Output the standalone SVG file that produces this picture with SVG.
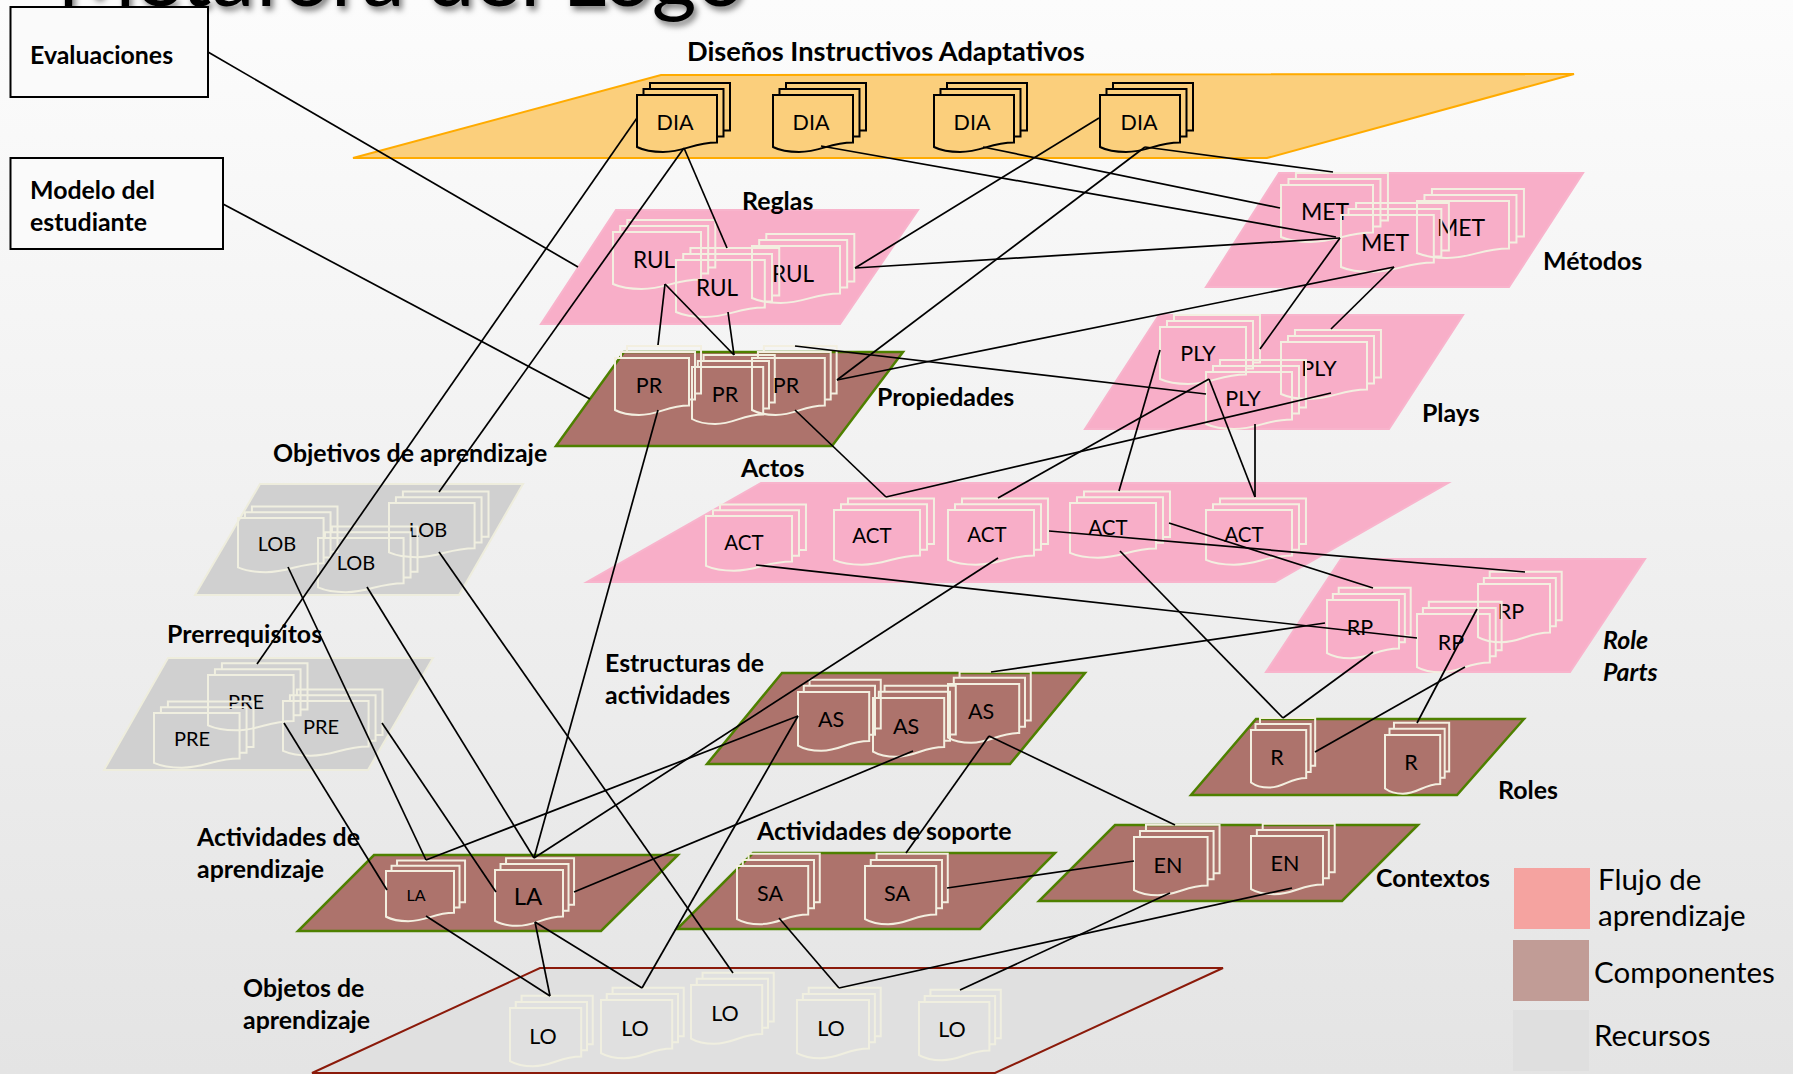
<svg xmlns="http://www.w3.org/2000/svg" width="1793" height="1074" viewBox="0 0 1793 1074">
<style>
text{font-family:"Lato","Liberation Sans",sans-serif;fill:#000;stroke:none}
.b{font-weight:700;font-size:24.9px;transform:translateY(1px)}
.i{font-weight:700;font-style:italic;font-size:24.9px;transform:translateY(1px)}
.l{font-size:29.5px}
.t{font-size:21.5px;text-anchor:middle;transform:translateY(-1px)}
.dia{stroke:#000}
.pk,.br{stroke:#F3EFE0}
.gy,.lo{stroke:#F0EFE0}
.doc{fill:none;stroke-width:2;vector-effect:non-scaling-stroke}
.box{fill:#FAFAFA;stroke:#000;stroke-width:2}
.p{stroke-width:2}
.po{fill:#FBCF7C;stroke:#FFAB00}
.pp{fill:#F8AEC8;stroke:#F8B4CC}
.pb{fill:#AD736C;stroke:#4E8000;stroke-width:2.5}
.pg{fill:#D0D0D0;stroke:#EEEDDD}
.pl{fill:#E0E0E0;stroke:#8B1A0A}
#conn line{stroke:#000;stroke-width:1.7}
</style>
<defs>
<linearGradient id="bg" x1="0" y1="0" x2="0" y2="1"><stop offset="0" stop-color="#FCFCFC"/><stop offset="1" stop-color="#E4E4E4"/></linearGradient>
<filter id="sh" x="-5%" y="-30%" width="110%" height="170%"><feDropShadow dx="3" dy="4" stdDeviation="3" flood-color="#000" flood-opacity="0.55"/></filter>
<clipPath id="cutpre"><rect x="220" y="695" width="60" height="20"/></clipPath>
<g id="st"><path class="doc" d="M13-6V-12H93V35.5H86.5"/><path class="doc" d="M6.5 0V-6H86.5V41.5H80"/><path class="doc" d="M0 0H80V47.5C56 47.5 48 57 26 57C14 57 6 55 0 52Z"/></g>
</defs>
<rect width="1793" height="1074" fill="url(#bg)"/>
<text x="57" y="6" font-size="86" filter="url(#sh)">Metáfora del Logo</text>
<g id="evaluaciones"><rect class="box" x="10.5" y="7" width="197.5" height="90"/><text class="b" x="30" y="63">Evaluaciones</text></g>
<g id="modelo"><rect class="box" x="10.5" y="158" width="212.5" height="91"/><text class="b" x="30" y="198">Modelo del</text><text class="b" x="30" y="230">estudiante</text></g>

<g id="plane-dia"><polygon class="p po" points="661,75 1574,74 1267,158 353,158"/><text class="b" x="687" y="60" style="font-size:27.2px">Diseños Instructivos Adaptativos</text></g>
<g id="dia1" class="dia"><use href="#st" transform="translate(637 95)"/><text class="t" x="675" y="131">DIA</text></g>
<g id="dia2" class="dia"><use href="#st" transform="translate(773 95)"/><text class="t" x="811" y="131">DIA</text></g>
<g id="dia3" class="dia"><use href="#st" transform="translate(934 95)"/><text class="t" x="972" y="131">DIA</text></g>
<g id="dia4" class="dia"><use href="#st" transform="translate(1100 95)"/><text class="t" x="1139" y="131">DIA</text></g>

<g id="plane-reglas"><polygon class="p pp" points="616,210 918,210 840,324 541,324"/><text class="b" x="742" y="209">Reglas</text></g>
<g id="rul1" class="pk"><use href="#st" transform="translate(613 232) scale(1.1 1)"/><text class="t" style="font-size:22.5px" x="654" y="269">RUL</text></g>
<g id="rul3" class="pk"><use href="#st" transform="translate(752 246) scale(1.1 1)"/><text class="t" style="font-size:22.5px" x="793" y="283">RUL</text></g>
<g id="rul2" class="pk"><use href="#st" transform="translate(676 260) scale(1.11 1)"/><text class="t" style="font-size:22.5px" x="717" y="297">RUL</text></g>

<g id="plane-prop"><polygon class="p pb" points="624,352 903,352 832,446 556,446"/><text class="b" x="877" y="405">Propiedades</text></g>
<g id="pr1" class="br"><use href="#st" transform="translate(615 358) scale(.925 1)"/><text class="t" x="649" y="394">PR</text></g>
<g id="pr2" class="br"><use href="#st" transform="translate(692 367) scale(.89 1)"/><text class="t" x="725" y="403">PR</text></g>
<g id="pr3" class="br"><use href="#st" transform="translate(752 358) scale(.91 1)"/><text class="t" x="786" y="394">PR</text></g>

<g id="plane-metodos"><polygon class="p pp" points="1279,173 1583,173 1509,287 1206,287"/><text class="b" x="1543" y="269">Métodos</text></g>
<g id="met1" class="pk"><use href="#st" transform="translate(1281 185) scale(1.15 1)"/><text class="t" style="font-size:23px" x="1325" y="221">MET</text></g>
<g id="met3" class="pk"><use href="#st" transform="translate(1417 201) scale(1.15 1)"/><text class="t" style="font-size:23px" x="1461" y="237">MET</text></g>
<g id="met2" class="pk"><use href="#st" transform="translate(1341 215) scale(1.16 1)"/><text class="t" style="font-size:23px" x="1385" y="252">MET</text></g>

<g id="plane-plays"><polygon class="p pp" points="1159,315 1463,315 1389,429 1085,429"/><text class="b" x="1422" y="421">Plays</text></g>
<g id="ply1" class="pk"><use href="#st" transform="translate(1160 327) scale(1.075 1)"/><text class="t" x="1198" y="362">PLY</text></g>
<g id="ply2" class="pk"><use href="#st" transform="translate(1281 342) scale(1.075 1)"/><text class="t" x="1319" y="377">PLY</text></g>
<g id="ply3" class="pk"><use href="#st" transform="translate(1206 372) scale(1.075 1)"/><text class="t" x="1243" y="407">PLY</text></g>

<g id="plane-actos"><polygon class="p pp" points="761,483 1448,483 1275,582 587,582"/><text class="b" x="741" y="476">Actos</text></g>
<g id="act0" class="pk"><use href="#st" transform="translate(706 516) scale(1.075 .96)"/><text class="t" style="font-size:20.5px" x="744" y="551">ACT</text></g>
<g id="act1" class="pk"><use href="#st" transform="translate(834 510) scale(1.075 .96)"/><text class="t" style="font-size:20.5px" x="872" y="544">ACT</text></g>
<g id="act2" class="pk"><use href="#st" transform="translate(948 510) scale(1.075 .96)"/><text class="t" style="font-size:20.5px" x="987" y="543">ACT</text></g>
<g id="act3" class="pk"><use href="#st" transform="translate(1070 503) scale(1.075 .96)"/><text class="t" style="font-size:20.5px" x="1108" y="536">ACT</text></g>
<g id="act4" class="pk"><use href="#st" transform="translate(1206 510) scale(1.075 .96)"/><text class="t" style="font-size:20.5px" x="1244" y="543">ACT</text></g>

<g id="plane-rp"><polygon class="p pp" points="1341,559 1645,559 1570,672 1266,672"/><text class="i" x="1603" y="648">Role</text><text class="i" x="1603" y="680">Parts</text></g>
<g id="rp1" class="pk"><use href="#st" transform="translate(1327 600) scale(.9 1.02)"/><text class="t" x="1360" y="636">RP</text></g>
<g id="rp3" class="pk"><use href="#st" transform="translate(1478 584) scale(.9 1.02)"/><text class="t" x="1511" y="620">RP</text></g>
<g id="rp2" class="pk"><use href="#st" transform="translate(1417 614) scale(.91 1.02)"/><text class="t" x="1451" y="651">RP</text></g>

<g id="plane-lob"><polygon class="p pg" points="260,484 523,484 459,595 195,595"/><text class="b" x="273" y="461">Objetivos de aprendizaje</text></g>
<g id="lob1" class="gy"><use href="#st" transform="translate(238 518) scale(1.07 .95)"/><text class="t" style="font-size:20px" x="277" y="552">LOB</text></g>
<g id="lob3" class="gy"><use href="#st" transform="translate(389 503) scale(1.07 .95)"/><text class="t" style="font-size:20px" x="428" y="538">LOB</text></g>
<g id="lob2" class="gy"><use href="#st" transform="translate(318 538) scale(1.07 .95)"/><text class="t" style="font-size:20px" x="356" y="571">LOB</text></g>

<g id="plane-pre"><polygon class="p pg" points="168,658 433,658 368,770 104,770"/><text class="b" x="167" y="642">Prerrequisitos</text></g>
<g id="pre1" class="gy"><use href="#st" transform="translate(208 675) scale(1.07 .97)"/><text class="t" style="font-size:20px" x="246" y="710" clip-path="url(#cutpre)">PRE</text></g>
<g id="pre2" class="gy"><use href="#st" transform="translate(154 713) scale(1.07 .96)"/><text class="t" style="font-size:20px" x="192" y="747">PRE</text></g>
<g id="pre3" class="gy"><use href="#st" transform="translate(283 701) scale(1.07 .96)"/><text class="t" style="font-size:20px" x="321" y="735">PRE</text></g>

<g id="plane-as"><polygon class="p pb" points="782,673 1085,673 1010,764 707,764"/><text class="b" x="605" y="671">Estructuras de</text><text class="b" x="605" y="703">actividades</text></g>
<g id="as1" class="br"><use href="#st" transform="translate(798 692) scale(.89 1.03)"/><text class="t" x="831" y="728">AS</text></g>
<g id="as2" class="br"><use href="#st" transform="translate(873 698) scale(.89 1.03)"/><text class="t" x="906" y="735">AS</text></g>
<g id="as3" class="br"><use href="#st" transform="translate(948 684) scale(.89 1.03)"/><text class="t" x="981" y="720">AS</text></g>

<g id="plane-roles"><polygon class="p pb" points="1256,719 1524,719 1457,795 1191,795"/><text class="b" x="1498" y="798">Roles</text></g>
<g id="r1" class="br"><use href="#st" transform="translate(1251 730) scale(.69 1.01)"/><text class="t" x="1277" y="766">R</text></g>
<g id="r2" class="br"><use href="#st" transform="translate(1385 735) scale(.69 1.03)"/><text class="t" x="1411" y="771">R</text></g>

<g id="plane-ctx"><polygon class="p pb" points="1115,825 1418,825 1342,901 1039,901"/><text class="b" x="1376" y="886">Contextos</text></g>
<g id="en1" class="br"><use href="#st" transform="translate(1134 837) scale(.92 1.02)"/><text class="t" x="1168" y="874">EN</text></g>
<g id="en2" class="br"><use href="#st" transform="translate(1251 836) scale(.9 1.02)"/><text class="t" x="1285" y="872">EN</text></g>

<g id="plane-sa"><polygon class="p pb" points="753,853 1055,853 980,929 677,929"/><text class="b" x="757" y="839">Actividades de soporte</text></g>
<g id="sa1" class="br"><use href="#st" transform="translate(737 866) scale(.89 1.02)"/><text class="t" x="770" y="902">SA</text></g>
<g id="sa2" class="br"><use href="#st" transform="translate(865 866) scale(.89 1.02)"/><text class="t" x="897" y="902">SA</text></g>

<g id="plane-la"><polygon class="p pb" points="374,855 678,855 601,931 298,931"/><text class="b" x="197" y="845">Actividades de</text><text class="b" x="197" y="877">aprendizaje</text></g>
<g id="la1" class="br"><use href="#st" transform="translate(386 871) scale(.85 .88)"/><text class="t" x="416" y="902" style="font-size:16px">LA</text></g>
<g id="la2" class="br"><use href="#st" transform="translate(495 870) scale(.85 .98)"/><text class="t" x="528" y="906" style="font-size:24px">LA</text></g>

<g id="plane-lo"><polygon class="p pl" points="540,968 1223,968 995,1073 312,1073"/><text class="b" x="243" y="996">Objetos de</text><text class="b" x="243" y="1028">aprendizaje</text></g>
<g id="lo1" class="lo"><use href="#st" transform="translate(510 1008) scale(.89 1.02)"/><text class="t" x="543" y="1045">LO</text></g>
<g id="lo2" class="lo"><use href="#st" transform="translate(601 1000) scale(.89 1.02)"/><text class="t" x="635" y="1037">LO</text></g>
<g id="lo3" class="lo"><use href="#st" transform="translate(691 985) scale(.89 1.03)"/><text class="t" x="725" y="1022">LO</text></g>
<g id="lo4" class="lo"><use href="#st" transform="translate(797 1000) scale(.9 1.02)"/><text class="t" x="831" y="1037">LO</text></g>
<g id="lo5" class="lo"><use href="#st" transform="translate(919 1002) scale(.88 1.02)"/><text class="t" x="952" y="1038">LO</text></g>

<g id="legend">
<rect x="1514" y="868" width="76" height="61" fill="#F5A3A0"/><text class="l" x="1598" y="890">Flujo de</text><text class="l" x="1598" y="926">aprendizaje</text>
<rect x="1513" y="940" width="76" height="61" fill="#C19C96"/><text class="l" x="1594" y="983">Componentes</text>
<rect x="1513" y="1010" width="76" height="61" fill="#DFDFDF"/><text class="l" x="1594" y="1046">Recursos</text>
</g>

<g id="conn">
<line x1="208" y1="52" x2="578" y2="267"/>
<line x1="223" y1="204" x2="590" y2="399"/>
<line x1="637" y1="118" x2="257" y2="664"/>
<line x1="684" y1="148" x2="439" y2="492"/>
<line x1="684" y1="148" x2="727" y2="248"/>
<line x1="821" y1="146" x2="1336" y2="237"/>
<line x1="983" y1="147" x2="1280" y2="208"/>
<line x1="1099" y1="118" x2="855" y2="268"/>
<line x1="1145" y1="147" x2="837" y2="380"/>
<line x1="1145" y1="147" x2="1333" y2="172"/>
<line x1="855" y1="268" x2="1340" y2="238"/>
<line x1="1340" y1="238" x2="1260" y2="349"/>
<line x1="1394" y1="267" x2="837" y2="380"/>
<line x1="1394" y1="267" x2="1331" y2="329"/>
<line x1="795" y1="346" x2="1206" y2="394"/>
<line x1="665" y1="284" x2="658" y2="345"/>
<line x1="665" y1="284" x2="734" y2="355"/>
<line x1="728" y1="312" x2="734" y2="355"/>
<line x1="658" y1="410" x2="534" y2="858"/>
<line x1="795" y1="410" x2="886" y2="497"/>
<line x1="886" y1="497" x2="1331" y2="393"/>
<line x1="998" y1="498" x2="1209" y2="379"/>
<line x1="1119" y1="491" x2="1160" y2="350"/>
<line x1="1255" y1="497" x2="1209" y2="379"/>
<line x1="1255" y1="497" x2="1255" y2="424"/>
<line x1="1049" y1="531" x2="1525" y2="572"/>
<line x1="1169" y1="523" x2="1373" y2="588"/>
<line x1="756" y1="565" x2="1417" y2="638"/>
<line x1="1120" y1="551" x2="1283" y2="718"/>
<line x1="1373" y1="652" x2="1283" y2="718"/>
<line x1="1465" y1="667" x2="1315" y2="752"/>
<line x1="1477" y1="609" x2="1417" y2="723"/>
<line x1="1325" y1="623" x2="991" y2="672"/>
<line x1="998" y1="558" x2="534" y2="858"/>
<line x1="798" y1="716" x2="426" y2="860"/>
<line x1="798" y1="716" x2="642" y2="988"/>
<line x1="913" y1="751" x2="574" y2="892"/>
<line x1="989" y1="736" x2="906" y2="853"/>
<line x1="989" y1="736" x2="1175" y2="825"/>
<line x1="947" y1="888" x2="1134" y2="861"/>
<line x1="779" y1="918" x2="839" y2="988"/>
<line x1="839" y1="988" x2="1292" y2="888"/>
<line x1="1170" y1="893" x2="960" y2="990"/>
<line x1="288" y1="567" x2="426" y2="860"/>
<line x1="367" y1="587" x2="534" y2="858"/>
<line x1="439" y1="552" x2="733" y2="973"/>
<line x1="284" y1="723" x2="387" y2="890"/>
<line x1="382" y1="723" x2="496" y2="892"/>
<line x1="426" y1="916" x2="550" y2="996"/>
<line x1="535" y1="922" x2="550" y2="996"/>
<line x1="535" y1="922" x2="642" y2="988"/>
</g>
</svg>
